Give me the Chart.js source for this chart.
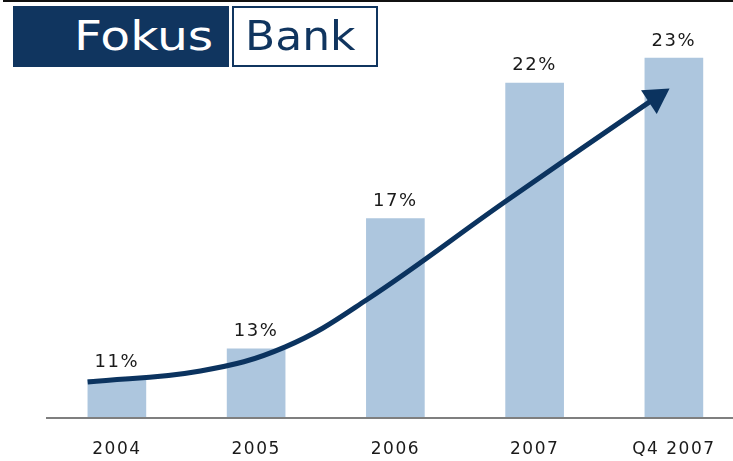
<!DOCTYPE html>
<html lang="en">
<head>
    <meta charset="UTF-8">
    <script src="https://cdn.jsdelivr.net/npm/chart.js"></script>
    <title>Fokus Bank</title>
    <style>
        body { margin: 0; overflow: hidden; background: #fff; width: 733px; height: 461px; position: relative; }
        .topline { position: absolute; left: 3px; top: 0; width: 730px; height: 2px; background: #111; }
        .logo { position: absolute; top: 6px; height: 61px; font-family: "DejaVu Sans", sans-serif; font-size: 40px; line-height: 61px; box-sizing: border-box; overflow: hidden; white-space: nowrap; }
        .logo span { display: inline-block; transform-origin: 0 50%; }
        .logo.fokus { left: 13px; width: 216px; background: #10355f; color: #fff; padding-left: 61px; }
        .logo.fokus span { transform: scaleX(1.22); }
        .logo.bank { left: 232px; width: 146px; background: #fff; color: #10355f; border: 2px solid #10355f; padding-left: 11px; line-height: 57px; }
        .logo.bank span { transform: scaleX(1.1); }
        #wrap { position: absolute; left: 0; top: 0; width: 760px; height: 461px; }
    </style>
</head>
<body>
    <div id="wrap"><canvas id="barChart" width="760" height="461"></canvas></div>
    <div class="topline"></div>
    <div class="logo fokus"><span>Fokus</span></div>
    <div class="logo bank"><span>Bank</span></div>

    <script>
        // categories and values (share, %)
        const years = ['2004', '2005', '2006', '2007', 'Q4 2007'];
        const shares = [11.4, 12.5, 17.2, 22.1, 23.0];

        // trend arrow drawn over the bars (x in category index, y in %)
        const trendX = [-0.21, 0.60, 1.21, 1.80, 2.79, 3.87];
        const trendY = [11.30, 11.70, 12.57, 14.29, 17.82, 21.57];

        const navy = '#0b335f';

        // wider lettering like the original
        const spacing = {
            id: 'spacing',
            beforeDraw(chart) { chart.ctx.letterSpacing = '1.5px'; },
            afterDraw(chart) { chart.ctx.letterSpacing = '0px'; }
        };

        // percent labels on top of bars
        const pctLabels = {
            id: 'pctLabels',
            afterDatasetsDraw(chart) {
                const ctx = chart.ctx;
                const meta = chart.getDatasetMeta(0);
                ctx.save();
                ctx.font = '18px "DejaVu Sans"';
                ctx.fillStyle = '#1a1a1a';
                ctx.textAlign = 'center';
                ctx.textBaseline = 'alphabetic';
                meta.data.forEach((bar, i) => {
                    ctx.fillText(Math.round(shares[i]) + '%', bar.x, bar.y - 12.5);
                });
                ctx.restore();
            }
        };

        const trendData = trendX.map((x, i) => ({ x: x, y: trendY[i] }));
        const last = trendData.length - 1;

        const config = {
            type: 'bar',
            data: {
                labels: years,
                datasets: [{
                    type: 'bar',
                    data: shares,
                    backgroundColor: '#adc6de',
                    barThickness: 58,
                    grouped: false,
                    order: 1
                }, {
                    type: 'line',
                    data: trendData,
                    xAxisID: 'xl',
                    borderColor: navy,
                    borderWidth: 5,
                    tension: 0.4,
                    pointRadius: ctx => ctx.dataIndex === last ? 16.5 : 0,
                    pointStyle: 'triangle',
                    rotation: 56.7,
                    pointBackgroundColor: navy,
                    pointBorderWidth: 0,
                    clip: false,
                    order: 0
                }]
            },
            options: {
                responsive: false,
                animation: false,
                layout: { padding: { left: 47.25, right: 15.25, top: 12, bottom: 0 } },
                plugins: { legend: { display: false }, tooltip: { enabled: false } },
                scales: {
                    x: {
                        type: 'category',
                        grid: { display: false, drawTicks: false },
                        border: { display: true, color: '#7f7f7f', width: 2, z: 1 },
                        ticks: { color: '#1a1a1a', font: { family: 'DejaVu Sans', size: 17 }, padding: 21 },
                        afterFit(scale) { scale.height = 43; }
                    },
                    xl: { type: 'linear', display: false, offset: false, min: -0.5, max: 4.5 },
                    y: { display: false, min: 10, max: 24.5 }
                }
            },
            plugins: [spacing, pctLabels]
        };

        new Chart(document.getElementById('barChart').getContext('2d'), config);
    </script>
</body>
</html>
